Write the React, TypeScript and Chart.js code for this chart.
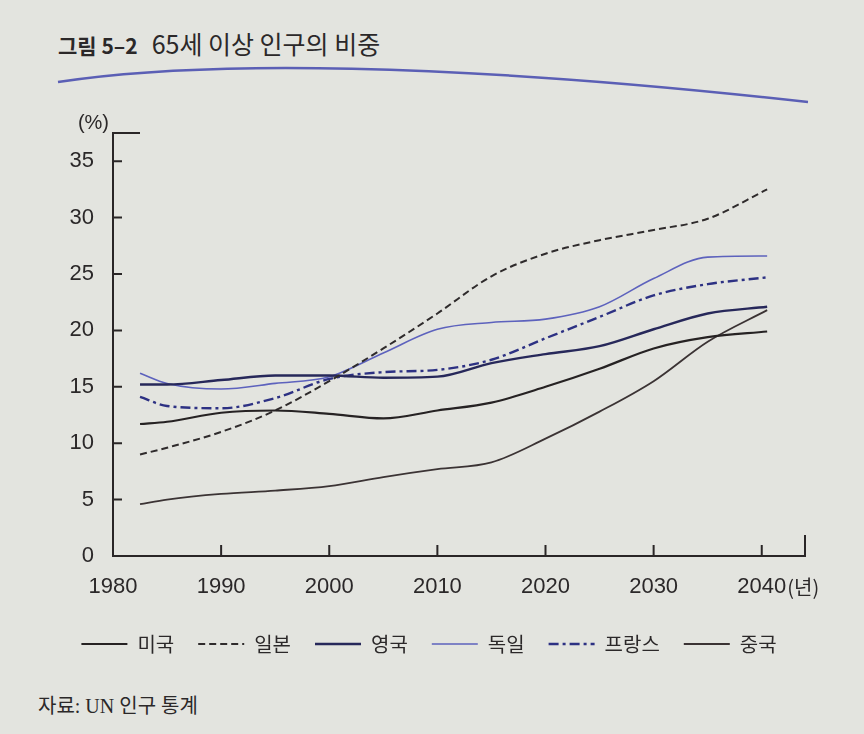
import React, { useEffect, useRef } from 'react';
import { Chart, registerables } from 'chart.js';

Chart.register(...registerables);

// 연도 (선은 1982년 무렵에서 시작해 2040년 조금 뒤에서 끝남)
const years = [1982.5, 1985, 1990, 1995, 2000, 2005, 2010, 2015, 2020, 2025, 2030, 2035, 2040.5];

// 65세 이상 인구 비중 (%), 그림에서 읽은 값
const usa = [11.7, 11.9, 12.7, 12.9, 12.6, 12.2, 12.9, 13.6, 15.0, 16.6, 18.4, 19.4, 19.9];
const japan = [9.0, 9.6, 11.0, 12.9, 15.5, 18.4, 21.5, 24.8, 26.8, 28.0, 28.9, 29.9, 32.5];
const uk = [15.2, 15.2, 15.6, 16.0, 16.0, 15.8, 15.9, 17.1, 17.9, 18.6, 20.1, 21.5, 22.1];
const germany = [16.2, 15.3, 14.8, 15.3, 15.9, 18.0, 20.1, 20.7, 21.0, 22.1, 24.6, 26.5, 26.6];
const france = [14.1, 13.3, 13.1, 14.0, 15.7, 16.3, 16.5, 17.4, 19.3, 21.2, 23.1, 24.1, 24.7];
const china = [4.6, 5.0, 5.5, 5.8, 6.2, 7.0, 7.7, 8.3, 10.4, 12.8, 15.5, 19.0, 21.8];

const countries = ['미국', '일본', '영국', '독일', '프랑스', '중국'];
const xTicks = [1980, 1990, 2000, 2010, 2020, 2030, 2040];
const yTicks = [0, 5, 10, 15, 20, 25, 30, 35];

const axisColor = '#2a2627';
const textColor = '#2b2829';
const sansFont = "'Liberation Sans', 'Noto Sans CJK KR', sans-serif";
const krFont = "'Noto Sans CJK KR', 'Liberation Sans', sans-serif";

const lineColors = ['#262223', '#2f2b2c', '#27285a', '#5d62bd', '#2d3183', '#3b3334'];
const lineWidths = [2.2, 2, 2.4, 1.6, 2.4, 1.8];
const lineDashes: number[][] = [[], [7, 4], [], [], [10, 4, 3, 4], []];

const toPoints = (vals: number[]) => vals.map((v, i) => ({ x: years[i], y: v }));

// 안쪽을 향한 눈금, 축 끝의 짧은 선, 단위 표시
const axisMarks = {
  id: 'axisMarks',
  afterDraw(chart: any) {
    const { ctx, chartArea, scales } = chart;
    const { left, right, top, bottom } = chartArea;
    const x = scales.x;
    const y = scales.y;
    ctx.save();
    ctx.strokeStyle = axisColor;
    ctx.lineWidth = 2;
    ctx.setLineDash([]);
    ctx.beginPath();
    yTicks.forEach((v) => {
      if (v === 0) return;
      const py = y.getPixelForValue(v);
      ctx.moveTo(left, py);
      ctx.lineTo(left + 9, py);
    });
    xTicks.forEach((v) => {
      if (v === 1980) return;
      const px = x.getPixelForValue(v);
      ctx.moveTo(px, bottom);
      ctx.lineTo(px, bottom - 11);
    });
    ctx.moveTo(left - 1, top);
    ctx.lineTo(left + 27, top);
    ctx.moveTo(right, bottom + 1);
    ctx.lineTo(right, bottom - 21);
    ctx.stroke();

    ctx.fillStyle = textColor;
    ctx.font = `20px ${sansFont}`;
    ctx.textAlign = 'right';
    ctx.textBaseline = 'alphabetic';
    ctx.fillText('(%)', left - 4, top - 4);

    const px2040 = x.getPixelForValue(2040);
    ctx.font = `22px ${sansFont}`;
    const w = ctx.measureText('2040').width;
    ctx.textAlign = 'left';
    ctx.textBaseline = 'middle';
    ctx.font = `20px ${krFont}`;
    ctx.fillText('(년)', px2040 + w / 2 + 1, x.top + 31);
    ctx.restore();
  },
};

const AgingChart: React.FC = () => {
  const canvasRef = useRef<HTMLCanvasElement | null>(null);

  useEffect(() => {
    const ctx = canvasRef.current?.getContext('2d');
    if (!ctx) return;

    const series = [usa, japan, uk, germany, france, china];

    const chart = new Chart(ctx, {
      type: 'line',
      data: {
        datasets: series.map((vals, i) => ({
          label: countries[i],
          data: toPoints(vals),
          borderColor: lineColors[i],
          backgroundColor: lineColors[i],
          borderWidth: lineWidths[i],
          borderDash: lineDashes[i],
          pointRadius: 0,
          pointStyle: 'line',
          cubicInterpolationMode: 'monotone',
          fill: false,
        })),
      },
      options: {
        responsive: false,
        animation: false,
        layout: { padding: { left: 13, right: 35, top: 33, bottom: 16 } },
        plugins: {
          tooltip: { enabled: false },
          legend: {
            position: 'bottom',
            labels: {
              usePointStyle: true,
              pointStyle: 'line',
              pointStyleWidth: 46,
              padding: 24,
              color: textColor,
              font: { family: krFont, size: 20 },
              generateLabels: (c: any) =>
                Chart.defaults.plugins.legend.labels.generateLabels(c).map((item: any, i: number) => ({
                  ...item,
                  strokeStyle: lineColors[i],
                  lineWidth: lineWidths[i],
                  lineDash: lineDashes[i],
                })),
            },
          },
        },
        scales: {
          x: {
            type: 'linear',
            min: 1980,
            max: 2044,
            afterBuildTicks: (scale: any) => {
              scale.ticks = xTicks.map((value) => ({ value }));
            },
            afterFit: (scale: any) => {
              scale.height = 54;
            },
            grid: { display: false },
            border: { display: true, color: axisColor, width: 2 },
            ticks: {
              padding: 10,
              color: textColor,
              maxRotation: 0,
              font: { family: sansFont, size: 22 },
              callback: (v: any) => String(v),
            },
          },
          y: {
            min: 0,
            max: 37.5,
            afterBuildTicks: (scale: any) => {
              scale.ticks = yTicks.map((value) => ({ value }));
            },
            afterFit: (scale: any) => {
              scale.width = 60;
            },
            grid: { display: false },
            border: { display: true, color: axisColor, width: 2 },
            ticks: {
              padding: 11,
              color: textColor,
              font: { family: sansFont, size: 22 },
            },
          },
        },
      },
      plugins: [axisMarks],
    });

    return () => {
      chart.destroy();
    };
  }, []);

  return <canvas ref={canvasRef} width={800} height={580} />;
};

const App: React.FC = () => {
  return (
    <div
      style={{
        position: 'absolute',
        left: 0,
        top: 0,
        width: 864,
        height: 734,
        background: '#e3e4df',
        overflow: 'hidden',
        color: textColor,
      }}
    >
      <div
        style={{
          position: 'absolute',
          left: 58,
          top: 27,
          fontFamily: krFont,
          fontSize: 25,
          whiteSpace: 'nowrap',
          lineHeight: '32px',
        }}
      >
        <span style={{ fontWeight: 700, fontSize: 21 }}>그림 5–2</span>
        <span style={{ marginLeft: 14 }}>65세 이상 인구의 비중</span>
      </div>
      <svg width={864} height={120} style={{ position: 'absolute', left: 0, top: 0 }}>
        <path d="M58 82 C 200 60, 450 62, 808 102" stroke="#5b5fb5" strokeWidth={2.5} fill="none" />
      </svg>
      <div style={{ position: 'absolute', left: 40, top: 100 }}>
        <AgingChart />
      </div>
      <div
        style={{
          position: 'absolute',
          left: 38,
          top: 690,
          fontFamily: "'Liberation Serif', 'Noto Sans CJK KR', serif",
          fontSize: 20,
          whiteSpace: 'nowrap',
        }}
      >
        자료: UN 인구 통계
      </div>
    </div>
  );
};

export default App;
